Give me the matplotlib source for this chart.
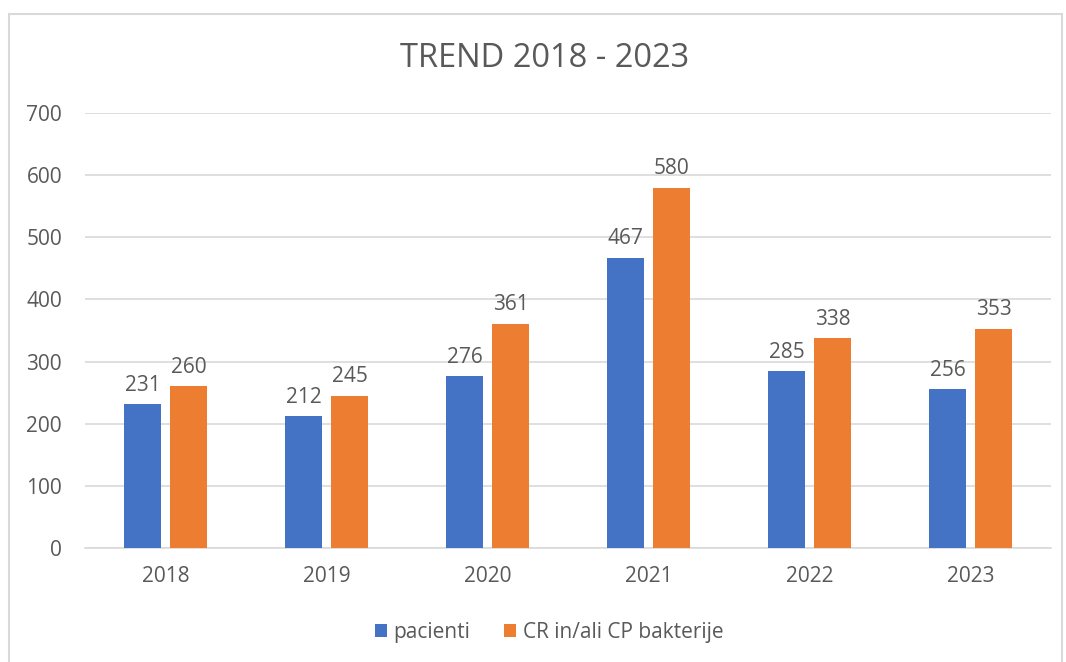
import numpy as np
import matplotlib.pyplot as plt
from matplotlib.patches import Rectangle

years = ['2018', '2019', '2020', '2021', '2022', '2023']
pacienti = [231, 212, 276, 467, 285, 256]
bakterije = [260, 245, 361, 580, 338, 353]

blue = '#4472C4'
orange = '#ED7D31'
txt = '#595959'

plt.rcParams['font.family'] = ['Open Sans', 'DejaVu Sans']

fig = plt.figure(figsize=(10.66, 6.62), dpi=100)
fig.patches.append(Rectangle((9 / 1066, -0.01), (1062 - 9) / 1066, 1 - 14 / 662 + 0.01,
                             transform=fig.transFigure, fill=False,
                             edgecolor='#D9D9D9', linewidth=1.5))
ax = fig.add_axes([85 / 1066, 114 / 662, (1051 - 85) / 1066, (548 - 113) / 662])

x = np.arange(len(years))
w = 0.224
off = 0.143
b1 = ax.bar(x - off, pacienti, w, color=blue, label='pacienti', zorder=3)
b2 = ax.bar(x + off, bakterije, w, color=orange, label='CR in/ali CP bakterije', zorder=3)
for bars, vals in ((b1, pacienti), (b2, bakterije)):
    for r, v in zip(bars, vals):
        ax.annotate(str(v), (r.get_x() + r.get_width() / 2, v), xytext=(0, 6),
                    textcoords='offset points', ha='center', va='bottom',
                    fontsize=15, color=txt)

ax.set_xlim(-0.5, len(years) - 0.5)
ax.set_ylim(0, 700)
ax.set_yticks(range(0, 701, 100))
ax.set_xticks(x)
ax.set_xticklabels(years)
ax.yaxis.grid(True, color='#D9D9D9', linewidth=1.2, zorder=0)
for s in ['top', 'right', 'left']:
    ax.spines[s].set_visible(False)
ax.spines['bottom'].set_color('#D9D9D9')
ax.spines['bottom'].set_linewidth(1.2)
ax.tick_params(length=0, labelsize=15, colors=txt)
ax.tick_params(axis='y', pad=16.5)
ax.tick_params(axis='x', pad=13)

fig.text(0.511, 0.912, 'TREND 2018 - 2023', ha='center', va='center', fontsize=23.5, color=txt)
fig.legend(loc='center', bbox_to_anchor=(0.515, 0.045), ncol=2, frameon=False,
           fontsize=15, labelcolor=txt, handlelength=0.6, handleheight=0.6,
           handletextpad=0.3, columnspacing=1.6)

fig.savefig('out.png', dpi=100)
